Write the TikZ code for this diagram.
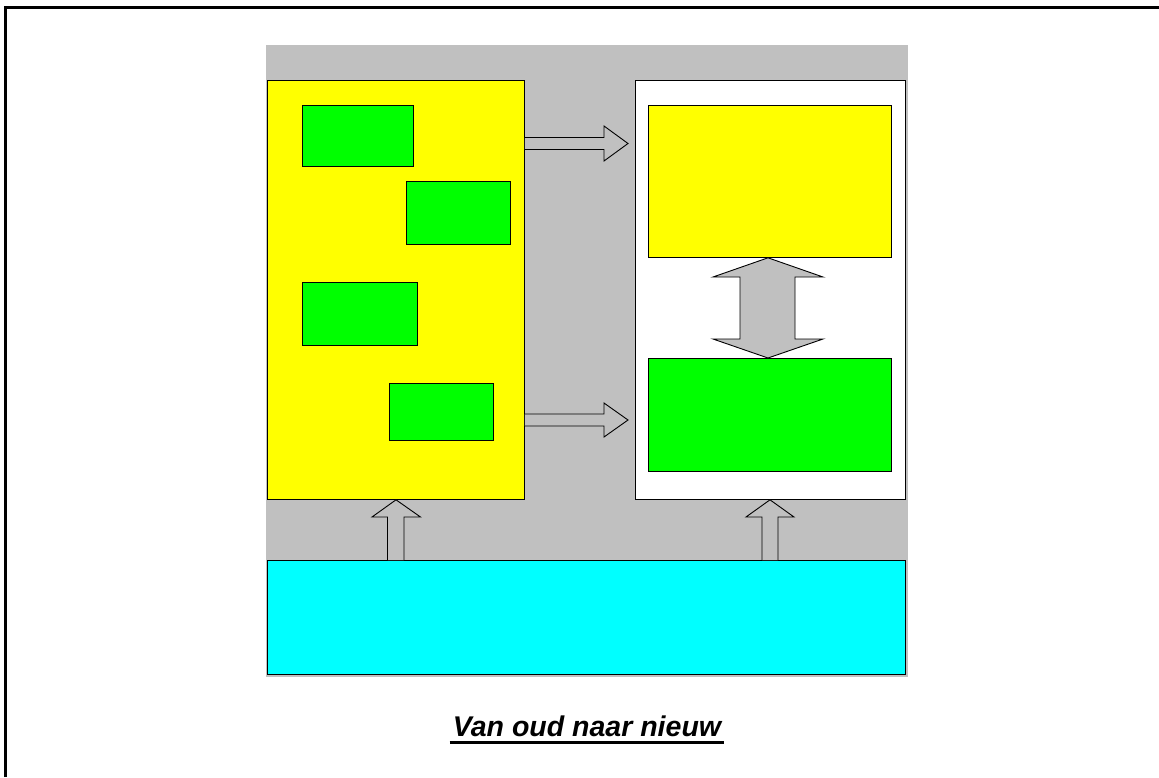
\documentclass[tikz,border=0pt]{standalone}
\usepackage{fontspec}
\setmainfont{Liberation Sans}
\usetikzlibrary{calc}
\definecolor{panelgray}{HTML}{C0C0C0}
\definecolor{boxyellow}{HTML}{FFFF00}
\definecolor{boxgreen}{HTML}{00FF00}
\definecolor{boxcyan}{HTML}{00FFFF}
\begin{document}
\begin{tikzpicture}[x=1pt,y=-1pt,
  box/.style={draw=black, line width=0.8pt, rectangle, inner sep=0pt, anchor=north west},
  blockarrow/.style={draw=black, line width=0.9pt, fill=panelgray, line join=miter}]
\useasboundingbox (0,0) rectangle (1159,777);
\fill[white] (0,0) rectangle (1159,777);
% page frame
\draw[line width=3pt] (5,777) -- (5,7.5) -- (1159,7.5);
% grey backdrop
\fill[panelgray] (266,45) rectangle (908,677);
% old system with its parts
\node[box, fill=boxyellow, minimum width=257pt, minimum height=419pt] (old) at (267,80) {};
\node[box, fill=boxgreen, minimum width=111pt, minimum height=61pt] (g1) at (302,105) {};
\node[box, fill=boxgreen, minimum width=104pt, minimum height=63pt] (g2) at (406,181) {};
\node[box, fill=boxgreen, minimum width=115pt, minimum height=63pt] (g3) at (302,282) {};
\node[box, fill=boxgreen, minimum width=104pt, minimum height=57pt] (g4) at (389,383) {};
% new system
\node[box, fill=white, minimum width=270pt, minimum height=419pt] (new) at (635,80) {};
\node[box, fill=boxyellow, minimum width=243pt, minimum height=152pt] (nyellow) at (648,105) {};
\node[box, fill=boxgreen, minimum width=243pt, minimum height=113pt] (ngreen) at (648,358) {};
% common base
\node[box, fill=boxcyan, minimum width=638pt, minimum height=114pt] (base) at (267,560) {};
% arrows from old to new
\draw[blockarrow] (old.east |- 0,137.5) -- (604,137.5) -- (604,126) -- (628,143.5)
  -- (604,161) -- (604,149.5) -- (old.east |- 0,149.5);
\draw[blockarrow] (old.east |- 0,414) -- (604,414) -- (604,403) -- (628,420)
  -- (604,437) -- (604,426) -- (old.east |- 0,426);
% two-way arrow inside the new system
\draw[blockarrow] (nyellow.south -| 768,0) -- (823,277) -- (795,277) -- (795,339) -- (823,339)
  -- (ngreen.north -| 768,0) -- (713,339) -- (740,339) -- (740,277) -- (713,277) -- cycle;
% arrows up from the base
\draw[blockarrow] (base.north -| 387.5,0) -- (387.5,517) -- (372,517) -- (old.south -| 396,0)
  -- (420.5,517) -- (404,517) -- (base.north -| 404,0);
\draw[blockarrow] (base.north -| 762,0) -- (762,517) -- (746,517) -- (new.south -| 770,0)
  -- (794,517) -- (778,517) -- (base.north -| 778,0);
% caption
\node[inner sep=0pt, anchor=base, font=\fontsize{28.5}{34}\selectfont\bfseries\itshape] (title) at (587,736.5) {Van oud naar nieuw};
\draw[line width=3pt] ($(title.base west)+(-3,5.5)$) -- ($(title.base east)+(3,5.5)$);
\end{tikzpicture}
\end{document}
